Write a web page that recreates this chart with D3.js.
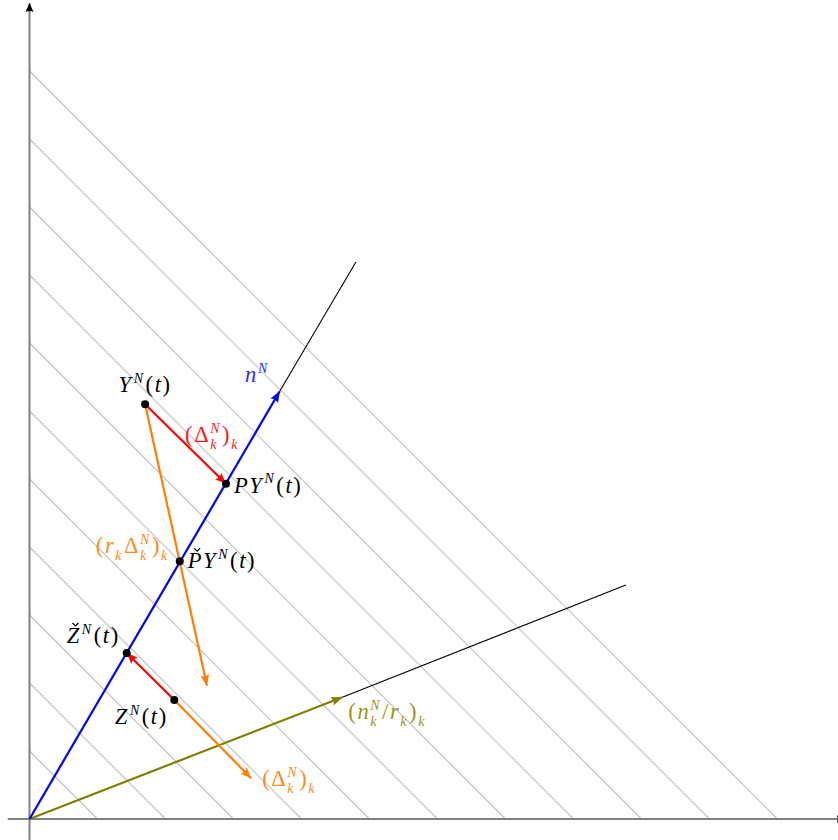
<!DOCTYPE html>
<html><head><meta charset="utf-8">
<script src="https://cdn.jsdelivr.net/npm/d3@7"></script>
<style>html,body{margin:0;padding:0;background:#fff;overflow:hidden}</style>
</head><body>
<svg id="c" width="838" height="840"></svg>
<script>
// ---- data (diagram coordinates, unit = 1 grid step) ----
const gridLevels = [1,2,3,4,5,6,7,8,9,10,11];          // lines x + y = c
const axisMin = -0.32, axisMax = 12;
const pointNames = ["Y","PY","PcY","Zc","Z"];
const pointX = [1.70, 2.89, 2.21, 1.43, 2.13];
const pointY = [6.10, 4.93, 3.79, 2.44, 1.75];
const nTip = [3.68, 6.29], nEnd = [4.80, 8.19];          // n^N vector and its ray
const oTip = [4.60, 1.79], oEnd = [8.77, 3.44];          // (n_k/r_k)_k vector and its ray
const orangeTipY = [2.61, 1.96];                         // Y + (r_k Δ_k)_k
const orangeTipZ = [3.26, 0.60];                         // Z + (Δ_k)_k

const svg = d3.select("#c");
const u = 68;
const x = d3.scaleLinear().domain([0, 1]).range([29.5, 29.5 + u]);
const y = d3.scaleLinear().domain([0, 1]).range([819, 819 - u]);
const P = i => [pointX[i], pointY[i]];
const idx = n => pointNames.indexOf(n);

const defs = svg.append("defs");
function marker(id, color, L, W) {
  defs.append("marker").attr("id", id).attr("markerUnits", "userSpaceOnUse")
    .attr("markerWidth", L + 2).attr("markerHeight", W + 2)
    .attr("viewBox", `0 ${-W/2 - 1} ${L + 2} ${W + 2}`)
    .attr("refX", L).attr("refY", 0).attr("orient", "auto")
    .append("path").attr("d", `M0,${-W/2} L${L},0 L0,${W/2} Q${L*0.25},0 0,${-W/2} Z`).attr("fill", color);
}
marker("mBlk", "#000", 9, 8);
marker("mBlue", "#0000ff", 11, 9);
marker("mRed", "#ff0000", 11, 9);
marker("mOr", "#ff8000", 11, 9);
marker("mOl", "#808000", 11, 9);

// grid lines
svg.append("g").selectAll("line").data(gridLevels).join("line")
  .attr("x1", x(0)).attr("y1", c => y(c)).attr("x2", c => x(c)).attr("y2", y(0))
  .attr("stroke", "#c4c4c4").attr("stroke-width", 1.2);

// axes
svg.append("line").attr("x1", x(axisMin)).attr("y1", y(0)).attr("x2", x(axisMax)).attr("y2", y(0))
  .attr("stroke", "#808080").attr("stroke-width", 2).attr("marker-end", "url(#mBlk)");
svg.append("line").attr("x1", x(0)).attr("y1", y(axisMin)).attr("x2", x(0)).attr("y2", y(axisMax))
  .attr("stroke", "#808080").attr("stroke-width", 2).attr("marker-end", "url(#mBlk)");

function seg(a, b, color, w, m) {
  const l = svg.append("line").attr("x1", x(a[0])).attr("y1", y(a[1])).attr("x2", x(b[0])).attr("y2", y(b[1]))
    .attr("stroke", color).attr("stroke-width", w);
  if (m) l.attr("marker-end", `url(#${m})`);
  return l;
}
// rays
seg(nTip, nEnd, "#000", 1.1);
seg(oTip, oEnd, "#000", 1.1);
// vectors
seg([0,0], oTip, "#808000", 2.2, "mOl");
seg([0,0], nTip, "#0000ff", 2.2, "mBlue");
seg(P(idx("Y")), orangeTipY, "#ff8000", 2.2, "mOr");
seg(P(idx("Z")), orangeTipZ, "#ff8000", 2.2, "mOr");
seg(P(idx("Y")), P(idx("PY")), "#ff0000", 2.2, "mRed");
seg(P(idx("Z")), P(idx("Zc")), "#ff0000", 2.2, "mRed");

// points
svg.append("g").selectAll("circle").data(pointNames.map((n, i) => i)).join("circle")
  .attr("cx", i => x(pointX[i])).attr("cy", i => y(pointY[i])).attr("r", 4).attr("fill", "#000");

// ---- math-like labels ----
const FS = 22.5, SS = 14, FF = "'Liberation Serif'";
function label(parts, px, py, align, color) {
  const g = svg.append("g").attr("fill", color);
  let cx = 0;
  const txt = (t, xx, yy, size, it) => {
    const e = g.append("text").attr("x", xx).attr("y", yy).style("font-family", FF)
      .attr("font-size", size).attr("font-style", it ? "italic" : "normal").text(t);
    return e.node().getComputedTextLength();
  };
  for (const p of parts) {
    if (p.t !== undefined) {
      const w = txt(p.t, cx, 0, FS, p.i);
      if (p.acc) {
        const ax = cx + w/2 + 2.5, ay = -FS*0.76;
        g.append("path").attr("d", `M${ax-3},${ay-3} L${ax},${ay} L${ax+3},${ay-3}`)
          .attr("fill", "none").attr("stroke", color).attr("stroke-width", 1.2);
      }
      cx += w + (p.sp !== undefined ? p.sp : 1.6);
    } else {
      let w1 = 0, w2 = 0;
      if (p.sup) w1 = txt(p.sup, cx + (p.supdx || 0), -9.5, SS, true) + (p.supdx || 0);
      if (p.sub) w2 = txt(p.sub, cx, 7, SS, true);
      cx += Math.max(w1, w2) + 2.5;
    }
  }
  const dx = align === "middle" ? -cx/2 : align === "end" ? -cx : 0;
  g.attr("transform", `translate(${px + dx},${py})`);
}
const I = t => ({t, i: true}), R = t => ({t, i: false});
const at = (n, dx, dy) => [x(pointX[idx(n)]) + dx, y(pointY[idx(n)]) + dy];
const atv = (v, dx, dy) => [x(v[0]) + dx, y(v[1]) + dy];

label([I("Y"), {sup:"N", supdx:1}, R("("), I("t"), R(")")], ...at("Y", 0, -12), "middle", "#000");
label([I("n"), {sup:"N"}], ...atv(nTip, -10, -9), "end", "#2a2aff");
label([R("("), R("Δ"), {sup:"N", sub:"k"}, R(")"), {sub:"k"}], ...at("Y", 40, 38), "start", "#ff1a1a");
label([I("P"), I("Y"), {sup:"N", supdx:1}, R("("), I("t"), R(")")], ...at("PY", 8, 9), "start", "#000");
label([R("("), I("r"), {sub:"k"}, R("Δ"), {sup:"N", sub:"k"}, R(")"), {sub:"k"}], ...at("PcY", -10, -8), "end", "#ff8c1a");
label([{t:"P", i:true, acc:1}, I("Y"), {sup:"N", supdx:1}, R("("), I("t"), R(")")], ...at("PcY", 8, 7), "start", "#000");
label([{t:"Z", i:true, acc:1}, {sup:"N", supdx:1}, R("("), I("t"), R(")")], ...at("Zc", -7, -10), "end", "#000");
label([I("Z"), {sup:"N", supdx:1}, R("("), I("t"), R(")")], ...at("Z", -33, 24), "middle", "#000");
label([R("("), I("n"), {sup:"N", sub:"k"}, R("/"), I("r"), {sub:"k"}, R(")"), {sub:"k"}], ...atv(oTip, 6, 22), "start", "#959514");
label([R("("), R("Δ"), {sup:"N", sub:"k"}, R(")"), {sub:"k"}], ...atv(orangeTipZ, 11, 8), "start", "#ff8c1a");
</script>
</body></html>
